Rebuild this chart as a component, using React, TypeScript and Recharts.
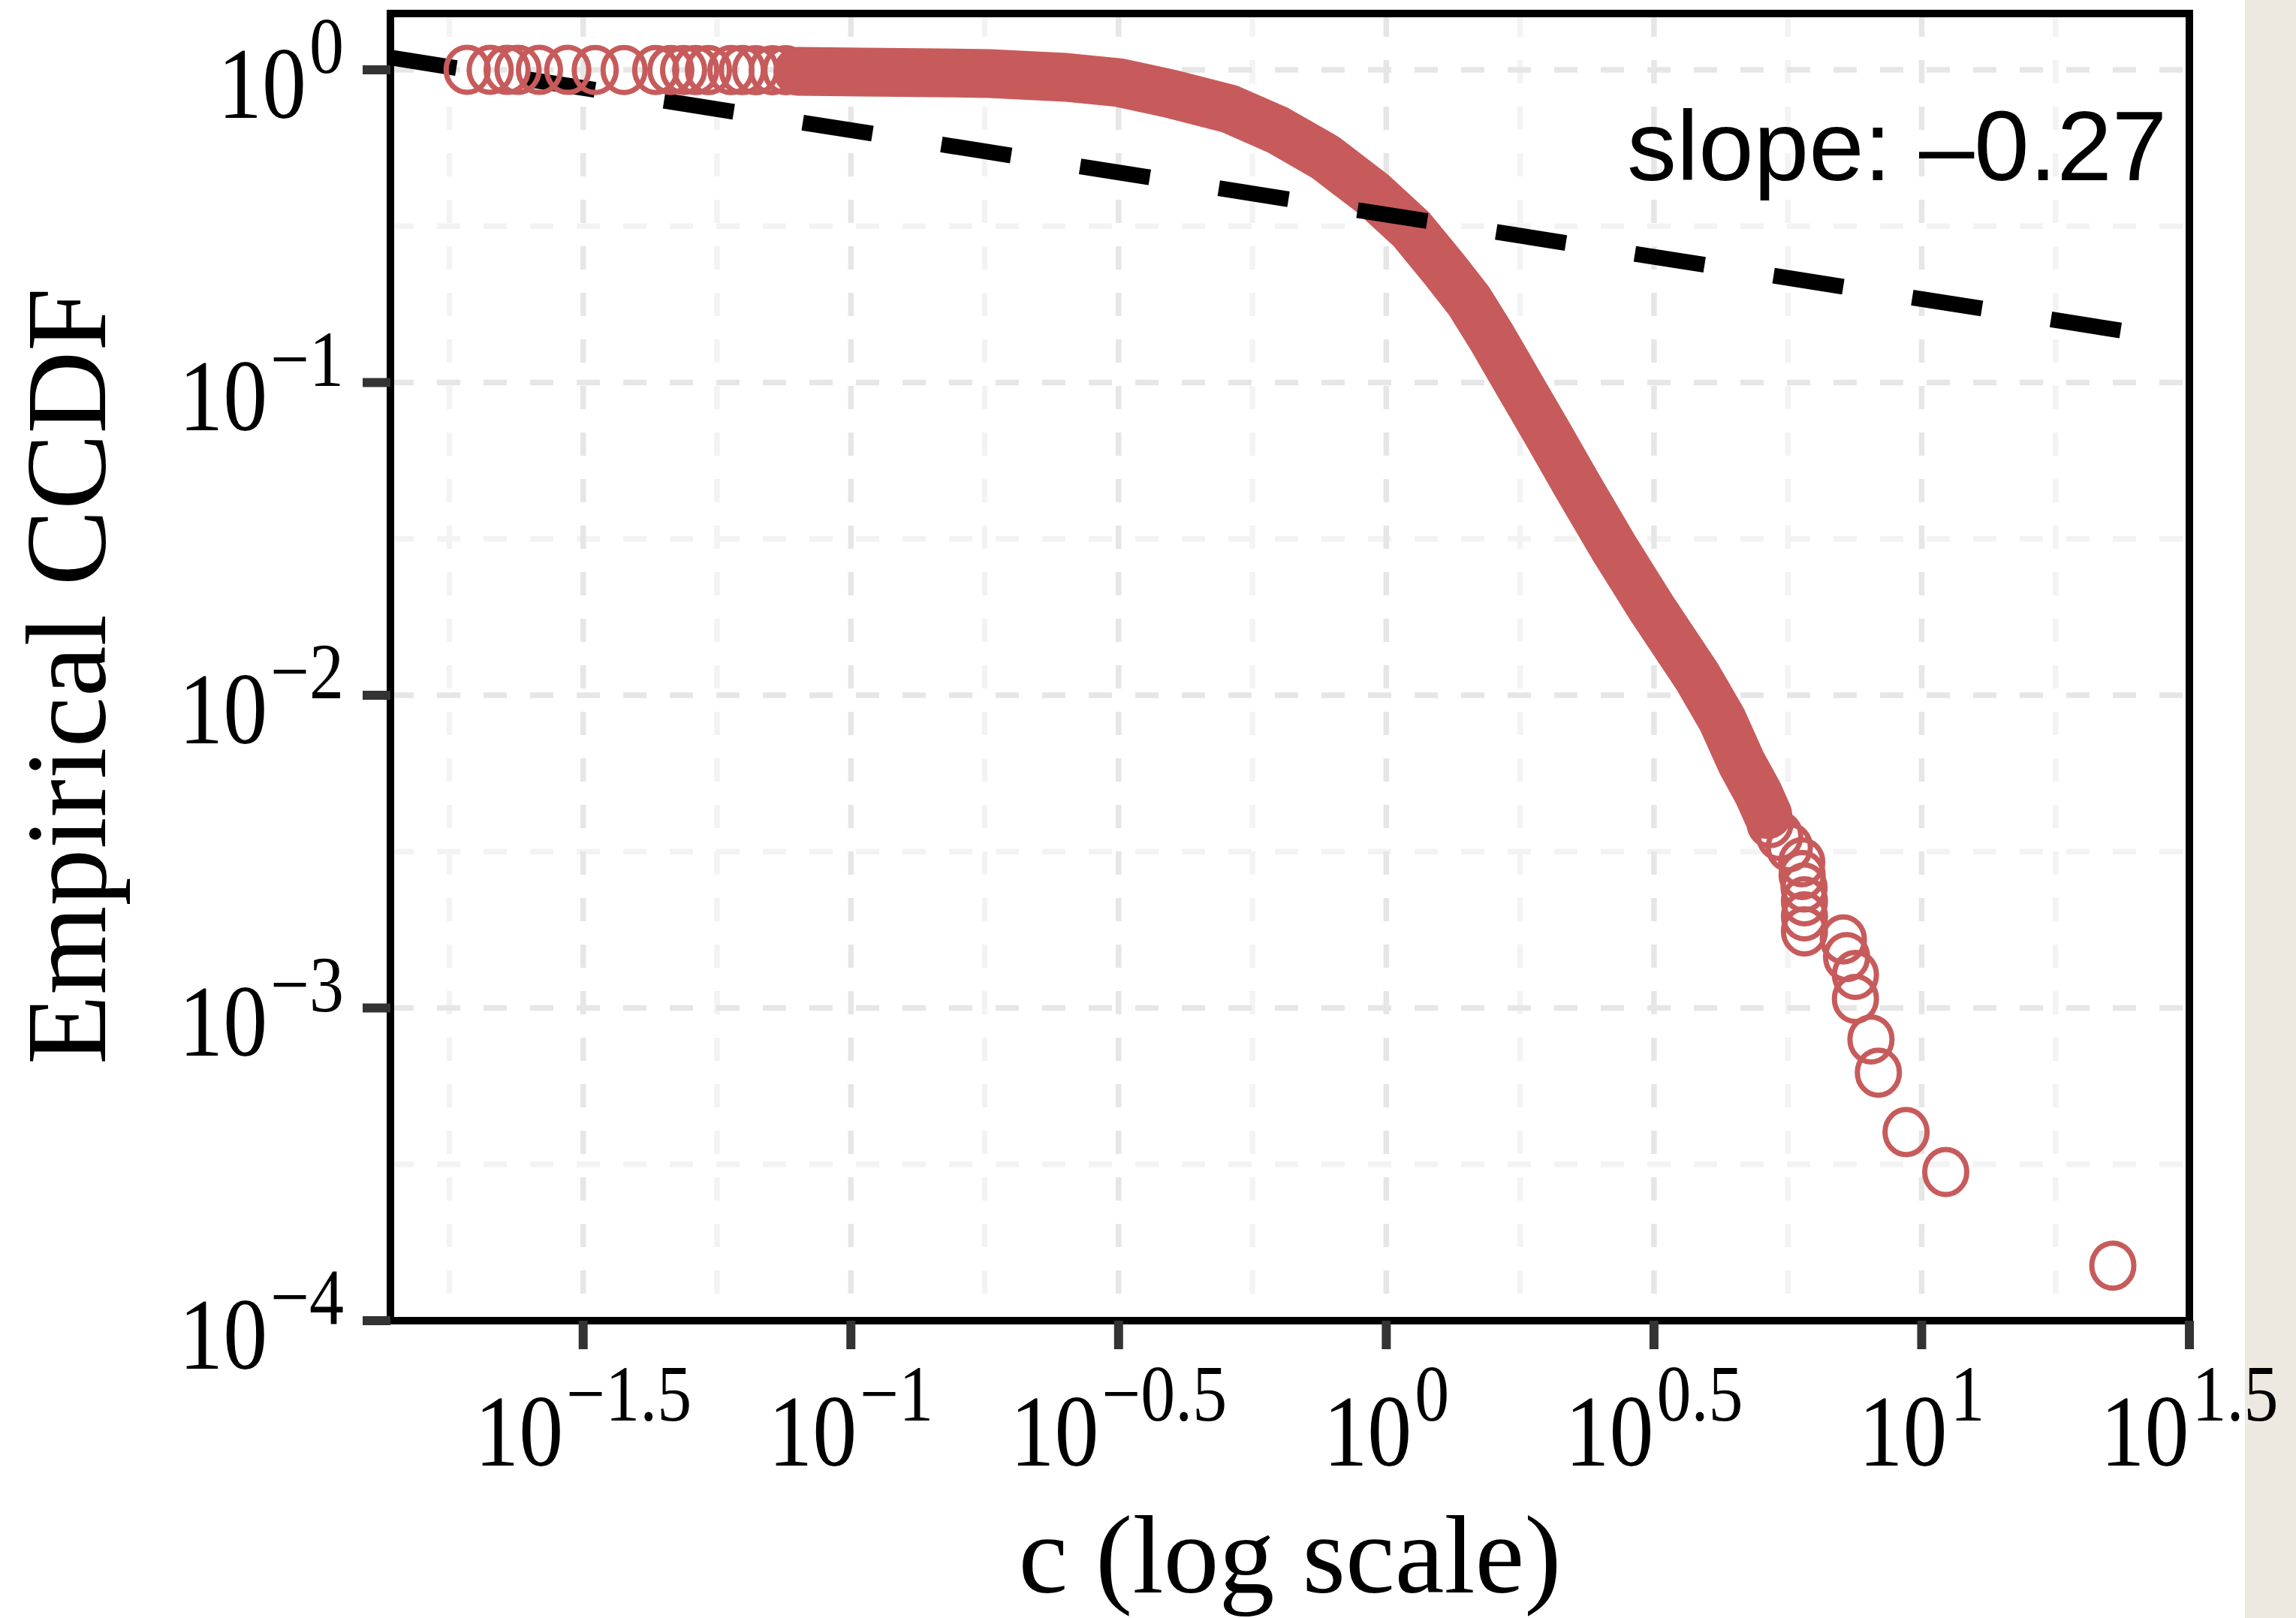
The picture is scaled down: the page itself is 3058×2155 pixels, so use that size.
import React from 'react'
import {
  ComposedChart,
  Scatter,
  Line,
  XAxis,
  YAxis,
  CartesianGrid,
  ReferenceLine,
} from 'recharts'

const pointColor = '#C75B5B'
const serif = "'Liberation Serif', 'Times New Roman', serif"
const sans = "'Liberation Sans', Arial, sans-serif"

// sparse circles at the start of the curve (c, ccdf)
const headC = [0.0192, 0.0212, 0.0228, 0.0239, 0.0262, 0.0296, 0.0333, 0.0377, 0.0432, 0.0461, 0.0487, 0.0513, 0.0542, 0.0597, 0.0627, 0.0664, 0.0713, 0.0756]
const headP = [1.0, 0.9998, 0.9997, 0.9995, 0.9994, 0.9992, 0.9991, 0.9989, 0.9988, 0.9986, 0.9985, 0.9983, 0.9982, 0.998, 0.9979, 0.9977, 0.9976, 0.9974]

// the solid run of overlapping circles, read along its middle
const bandC = [0.0796, 0.1051, 0.1452, 0.1816, 0.2518, 0.3167, 0.3958, 0.5093, 0.6266, 0.768, 0.9447, 1.114, 1.289, 1.429, 1.58, 1.781, 2.013, 2.269, 2.668, 3.135, 3.807, 4.236, 4.609, 4.948, 5.16]
const bandP = [0.989, 0.9835, 0.978, 0.9727, 0.9462, 0.91, 0.838, 0.75, 0.642, 0.526, 0.401, 0.309, 0.228, 0.1818, 0.1378, 0.0967, 0.0675, 0.0471, 0.0294, 0.0189, 0.01148, 0.00838, 0.00608, 0.00487, 0.00415]

// separate circles in the tail
const tailC = [5.21, 5.43, 5.66, 5.97, 5.98, 6.03, 6.04, 6.04, 6.04, 7.14, 7.24, 7.52, 7.52, 8.04, 8.3, 9.35, 11.09, 22.75]
const tailP = [0.003899, 0.003548, 0.003266, 0.002924, 0.002661, 0.002427, 0.002193, 0.001963, 0.001758, 0.001656, 0.001455, 0.001276, 0.001069, 0.000793, 0.000621, 0.000401, 0.000299, 0.00015]

// fitted power law, drawn end to end
const fitC = [0.0138, 31.62]
const fitP = [1.094, 0.1355]
const slopeText = 'slope: \u20130.27'

const xTickExps = [-1.5, -1, -0.5, 0, 0.5, 1, 1.5]
const yTickExps = [0, -1, -2, -3, -4]
const xMinorExps = [-1.75, -1.25, -0.75, -0.25, 0.25, 0.75, 1.25]
const yMinorExps = [-0.5, -1.5, -2.5, -3.5]

const xDomain = [10 ** -1.86, 10 ** 1.5]
const yDomain = [1e-4, 10 ** 0.18]

const pts = (cs: number[], ps: number[]) => cs.map((c, i) => ({ c, p: ps[i] }))
const headData = pts(headC, headP)
const bandData = pts(bandC, bandP)
const tailData = pts(tailC, tailP)
const fitData = pts(fitC, fitP)

const pow10 = (es: number[]) => es.map((e) => 10 ** e)

const expLabel = (v: number) => {
  const e = Math.round(Math.log10(v) * 2) / 2
  return e < 0 ? '\u2212' + Math.abs(e) : String(e)
}

function XTick(props: any) {
  const { x, y, payload } = props
  return (
    <g transform={`translate(${x},${y + 155}) scale(1,1.15)`}>
      <text textAnchor="middle" fontFamily={serif} fontSize={118} fill="#000">
        10<tspan fontSize={92} dx={4} dy={-52}>{expLabel(payload.value)}</tspan>
      </text>
    </g>
  )
}

function YTick(props: any) {
  const { x, y, payload } = props
  return (
    <g transform={`translate(${x},${y + 64}) scale(1,1.15)`}>
      <text textAnchor="end" fontFamily={serif} fontSize={118} fill="#000">
        10<tspan fontSize={92} dx={4} dy={-52}>{expLabel(payload.value)}</tspan>
      </text>
    </g>
  )
}

function XTitle(props: any) {
  const vb = props.viewBox || { x: 520, y: 1759, width: 2396, height: 396 }
  return (
    <text x={vb.x + vb.width / 2} y={vb.y + 362} textAnchor="middle" fontFamily={serif} fontSize={148} fill="#000">
      c (log scale)
    </text>
  )
}

function YTitle(props: any) {
  const vb = props.viewBox || { x: 0, y: 18, width: 520, height: 1741 }
  const cx = vb.x + 140
  const cy = vb.y + vb.height / 2 + 12
  return (
    <text transform={`translate(${cx},${cy}) rotate(-90)`} textAnchor="middle" fontFamily={serif} fontSize={152} fill="#000">
      Empirical CCDF
    </text>
  )
}

const ring = (props: any) => (
  <ellipse cx={props.cx} cy={props.cy} rx={28} ry={30} fill="none" stroke={pointColor} strokeWidth={7} />
)

const gridDash = '31 31'

export default function App() {
  return (
    <div style={{ position: 'absolute', left: 0, top: 0, width: 3058, height: 2155, background: '#fff' }}>
      <div style={{ position: 'absolute', left: 2990, top: 0, width: 68, height: 2155, background: '#EDE9E0' }} />
      <ComposedChart width={3058} height={2155} margin={{ top: 18, right: 142, bottom: 0, left: 0 }}>
        <CartesianGrid
          horizontalValues={pow10(yMinorExps)}
          verticalValues={pow10(xMinorExps)}
          stroke="#F3F3F3"
          strokeWidth={7.5}
          strokeDasharray={gridDash}
        />
        <CartesianGrid
          horizontalValues={pow10(yTickExps)}
          verticalValues={pow10(xTickExps)}
          stroke="#E6E6E6"
          strokeWidth={7.5}
          strokeDasharray={gridDash}
        />
        <XAxis
          dataKey="c"
          type="number"
          scale="log"
          domain={xDomain}
          allowDataOverflow
          ticks={pow10(xTickExps)}
          interval={0}
          height={396}
          tickSize={38}
          tickMargin={0}
          tick={<XTick />}
          axisLine={{ stroke: '#000', strokeWidth: 10, strokeLinecap: 'square' }}
          tickLine={{ stroke: '#333', strokeWidth: 12 }}
          label={<XTitle />}
        />
        <YAxis
          dataKey="p"
          type="number"
          scale="log"
          domain={yDomain}
          allowDataOverflow
          ticks={pow10(yTickExps)}
          interval={0}
          width={520}
          tickSize={37}
          tickMargin={25}
          tick={<YTick />}
          axisLine={{ stroke: '#000', strokeWidth: 10, strokeLinecap: 'square' }}
          tickLine={{ stroke: '#333', strokeWidth: 12 }}
          label={<YTitle />}
        />
        <Line
          data={bandData}
          dataKey="p"
          type="linear"
          stroke={pointColor}
          strokeWidth={65}
          strokeLinecap="round"
          strokeLinejoin="round"
          dot={false}
          activeDot={false}
          isAnimationActive={false}
        />
        <Scatter data={headData} dataKey="p" shape={ring} isAnimationActive={false} />
        <Scatter data={tailData} dataKey="p" shape={ring} isAnimationActive={false} />
        <Line
          data={fitData}
          dataKey="p"
          type="linear"
          stroke="#000"
          strokeWidth={21}
          strokeDasharray="94 93"
          strokeDashoffset={5}
          dot={false}
          activeDot={false}
          isAnimationActive={false}
        />
        <ReferenceLine y={yDomain[1]} stroke="#000" strokeWidth={10} strokeLinecap="square" />
        <ReferenceLine x={xDomain[1]} stroke="#000" strokeWidth={10} strokeLinecap="square" />
      </ComposedChart>
      <svg width={2990} height={2155} style={{ position: 'absolute', left: 0, top: 0, pointerEvents: 'none' }}>
        <text x={2167} y={240} fontFamily={sans} fontSize={132} fill="#000">
          {slopeText}
        </text>
      </svg>
    </div>
  )
}
